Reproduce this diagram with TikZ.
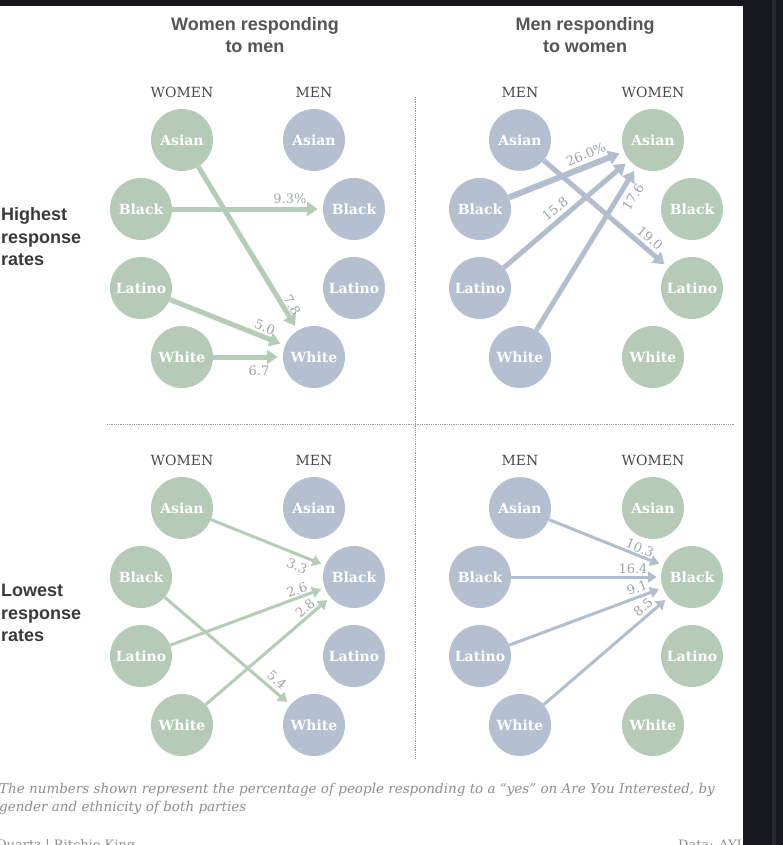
\documentclass[tikz,border=0pt]{standalone}
\usepackage{fontspec}
\setmainfont{DejaVu Serif}
\newfontfamily\titlefont{Liberation Sans}
\usetikzlibrary{arrows.meta}
\definecolor{gfill}{HTML}{B5CBB7}
\definecolor{bfill}{HTML}{B4C0D0}
\definecolor{garrc}{HTML}{B5CCB6}
\definecolor{barrc}{HTML}{B2BECE}
\definecolor{gnum}{HTML}{A0A8A0}
\definecolor{bnum}{HTML}{9CA4B0}
\definecolor{hdrc}{HTML}{4A4A4A}
\definecolor{titc}{HTML}{555555}
\definecolor{rowc}{HTML}{3A3A3A}
\definecolor{footc}{HTML}{8E8E8E}
\definecolor{sepc}{HTML}{9A9A9A}
\definecolor{darkbg}{HTML}{16181D}
\definecolor{darkstrip}{HTML}{26292F}
\begin{document}
\begin{tikzpicture}[x=1pt,y=-1pt,
  gc/.style={circle, fill=gfill, minimum size=62pt, inner sep=0pt, text=white, font=\bfseries\fontsize{14}{14}\selectfont},
  bc/.style={circle, fill=bfill, minimum size=62pt, inner sep=0pt, text=white, font=\bfseries\fontsize{14}{14}\selectfont},
  hdr/.style={text=hdrc, font=\fontsize{14}{14}\selectfont},
  gnumlab/.style={text=gnum, inner sep=0pt, font=\fontsize{13}{13}\selectfont},
  bnumlab/.style={text=bnum, inner sep=0pt, font=\fontsize{13}{13}\selectfont},
  garr/.style={draw=garrc, line width=5pt, -{Triangle[length=11pt,width=14pt]}, shorten >=5pt},
  barr/.style={draw=barrc, line width=5pt, -{Triangle[length=11pt,width=14pt]}, shorten >=5pt},
  garrs/.style={draw=garrc, line width=3pt, -{Triangle[length=9pt,width=11pt]}, shorten >=4pt},
  barrs/.style={draw=barrc, line width=3pt, -{Triangle[length=9pt,width=11pt]}, shorten >=4pt},
  ttl/.style={text=titc, align=center, font=\titlefont\bfseries\fontsize{18}{21.5}\selectfont},
  rowlab/.style={text=rowc, align=left, anchor=west, inner sep=0pt, font=\titlefont\bfseries\fontsize{18}{22.5}\selectfont},
  foot/.style={text=footc, inner sep=0pt, anchor=base west, font=\itshape\fontsize{13.5}{13.5}\selectfont},
  credit/.style={text=footc, inner sep=0pt, anchor=base west, font=\fontsize{13}{13}\selectfont},
  sep/.style={draw=sepc, line width=0.9pt, dash pattern=on 0.9pt off 0.9pt}
]
\path[use as bounding box, fill=white] (0,0) rectangle (783,845);

% titles and row labels
\node[ttl] (t1) at (255,35) {Women responding\\to men};
\node[ttl] (t2) at (585,35) {Men responding\\to women};
\node[rowlab] (r1) at (1,237) {Highest\\response\\rates};
\node[rowlab] (r2) at (1,613) {Lowest\\response\\rates};

% separators
\draw[sep] (415,97) -- (415,758);
\draw[sep] (107,424) -- (735,424);

% ---------- top-left: women responding to men, highest
\node[hdr] (h1w) at (182,92) {WOMEN};
\node[hdr] (h1m) at (314,92) {MEN};
\node[gc] (aW) at (182,140) {Asian};
\node[gc] (bW) at (141,209) {Black};
\node[gc] (lW) at (141,288) {Latino};
\node[gc] (wW) at (182,357) {White};
\node[bc] (aM) at (314,140) {Asian};
\node[bc] (bM) at (354,209) {Black};
\node[bc] (lM) at (354,288) {Latino};
\node[bc] (wM) at (314,357) {White};
\draw[garr] (aW) -- (wM);
\draw[garr] (bW) -- (bM);
\draw[garr] (lW) -- (wM);
\draw[garr] (wW) -- (wM);
\node[gnumlab] (n1a) at (290,199) {9.3\%};
\node[gnumlab, rotate=-59] (n1b) at (292,305) {7.8};
\node[gnumlab, rotate=-22] (n1c) at (265,327) {5.0};
\node[gnumlab] (n1d) at (259,371) {6.7};

% ---------- top-right: men responding to women, highest
\node[hdr] (h2m) at (520,92) {MEN};
\node[hdr] (h2w) at (653,92) {WOMEN};
\node[bc] (aM2) at (520,140) {Asian};
\node[bc] (bM2) at (480,209) {Black};
\node[bc] (lM2) at (480,288) {Latino};
\node[bc] (wM2) at (520,357) {White};
\node[gc] (aW2) at (653,140) {Asian};
\node[gc] (bW2) at (692,209) {Black};
\node[gc] (lW2) at (692,288) {Latino};
\node[gc] (wW2) at (653,357) {White};
\draw[barr, line width=6pt] (bM2) -- (aW2);
\draw[barr] (lM2) -- (aW2);
\draw[barr] (wM2) -- (aW2);
\draw[barr] (aM2) -- (lW2);
\node[bnumlab, rotate=22] (n2a) at (586,154) {26.0\%};
\node[bnumlab, rotate=40] (n2b) at (555,209) {15.8};
\node[bnumlab, rotate=58] (n2c) at (633,197) {17.6};
\node[bnumlab, rotate=-41] (n2d) at (650,238) {19.0};

% ---------- bottom-left: women responding to men, lowest
\node[hdr] (h3w) at (182,460) {WOMEN};
\node[hdr] (h3m) at (314,460) {MEN};
\node[gc] (aW3) at (182,508) {Asian};
\node[gc] (bW3) at (141,577) {Black};
\node[gc] (lW3) at (141,656) {Latino};
\node[gc] (wW3) at (182,725) {White};
\node[bc] (aM3) at (314,508) {Asian};
\node[bc] (bM3) at (354,577) {Black};
\node[bc] (lM3) at (354,656) {Latino};
\node[bc] (wM3) at (314,725) {White};
\draw[garrs] (aW3) -- (bM3);
\draw[garrs] (lW3) -- (bM3);
\draw[garrs] (wW3) -- (bM3);
\draw[garrs] (bW3) -- (wM3);
\node[gnumlab, rotate=-22] (n3a) at (297,566) {3.3};
\node[gnumlab, rotate=20] (n3b) at (297,590) {2.6};
\node[gnumlab, rotate=41] (n3c) at (305,608) {2.8};
\node[gnumlab, rotate=-41] (n3d) at (277,680) {5.4};

% ---------- bottom-right: men responding to women, lowest
\node[hdr] (h4m) at (520,460) {MEN};
\node[hdr] (h4w) at (653,460) {WOMEN};
\node[bc] (aM4) at (520,508) {Asian};
\node[bc] (bM4) at (480,577) {Black};
\node[bc] (lM4) at (480,656) {Latino};
\node[bc] (wM4) at (520,725) {White};
\node[gc] (aW4) at (653,508) {Asian};
\node[gc] (bW4) at (692,577) {Black};
\node[gc] (lW4) at (692,656) {Latino};
\node[gc] (wW4) at (653,725) {White};
\draw[barrs] (aM4) -- (bW4);
\draw[barrs] (bM4) -- (bW4);
\draw[barrs] (lM4) -- (bW4);
\draw[barrs] (wM4) -- (bW4);
\node[bnumlab, rotate=-22] (n4a) at (640,548) {10.3};
\node[bnumlab] (n4b) at (633,569) {16.4};
\node[bnumlab, rotate=20] (n4c) at (637,588) {9.1};
\node[bnumlab, rotate=41] (n4d) at (643,607) {8.5};

% footer
\node[foot] (f1) at (-1,793) {The numbers shown represent the percentage of people responding to a ``yes'' on Are You Interested, by};
\node[foot] (f2) at (-1,811) {gender and ethnicity of both parties};
\node[credit] (c1) at (-4,849) {Quartz | Ritchie King};
\node[credit] (c2) at (678,849) {Data: AYI};

% dark frame
\fill[darkbg] (0,0) rectangle (783,6);
\fill[darkbg] (743,0) rectangle (783,845);
\fill[darkstrip] (772,0) rectangle (776,845);
\end{tikzpicture}
\end{document}
